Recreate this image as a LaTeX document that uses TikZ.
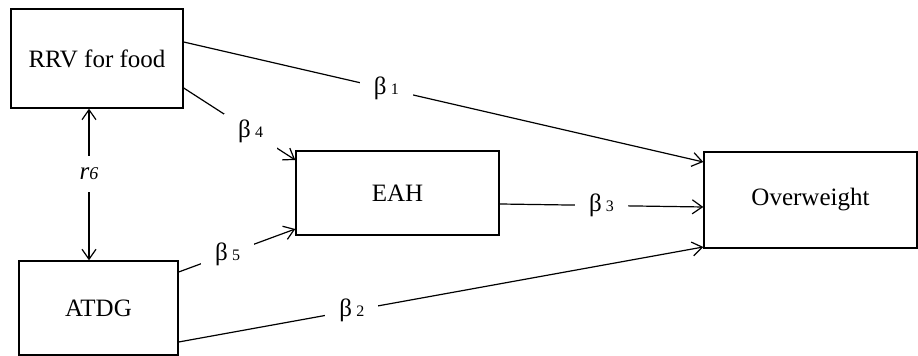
\documentclass[tikz,border=0pt]{standalone}
\usepackage{fontspec}
\setmainfont{Liberation Serif}
\usetikzlibrary{arrows.meta, positioning, calc}

\begin{document}
\begin{tikzpicture}[
    x=1pt, y=1pt,
    >={Straight Barb[length=5pt,width=7pt]},
    box/.style={rectangle, draw=black, line width=0.7pt, fill=white, text centered, font=\fontsize{12.5}{14}\selectfont},
    link/.style={->, line width=0.6pt, black},
    coef/.style={fill=white, inner xsep=7pt, inner ysep=3pt, font=\fontsize{12.5}{14}\selectfont}
]
    \useasboundingbox (0,0) rectangle (459,-178);

    % Boxes
    \node (rrv) [box, minimum width=86pt, minimum height=49.5pt] at (48.5,-29.25) {RRV for food};
    \node (atdg) [box, minimum width=79.5pt, minimum height=47pt] at (49.25,-154) {ATDG};
    \node (eah) [box, minimum width=101.5pt, minimum height=42pt] at (198.75,-96.5) {EAH};
    \node (over) [box, minimum width=106.5pt, minimum height=48pt] at (405.25,-100) {Overweight};

    % Paths
    \draw [link] ([yshift=8.25pt]rrv.east) -- ([yshift=19pt]over.west)
        node[coef, pos=0.39] {β\,{\footnotesize 1}};
    \draw [link] ([yshift=-14.75pt]rrv.east) -- ([yshift=16.5pt]eah.west)
        node[coef, pos=0.6] {β\,{\footnotesize 4}};
    \draw [link] ([yshift=18pt]atdg.east) -- ([yshift=-18pt]eah.west)
        node[coef, pos=0.42] {β\,{\footnotesize 5}};
    \draw [link] ([yshift=-5.5pt]eah.east) -- ([yshift=-3.5pt]over.west)
        node[coef, midway] {β\,{\footnotesize 3}};
    \draw [link] ([yshift=-17pt]atdg.east) -- ([yshift=-23.5pt]over.west)
        node[coef, pos=0.33] {β\,{\footnotesize 2}};

    % Correlation
    \draw [link, <->] ([xshift=-4pt]rrv.south) -- ([xshift=-4.75pt]atdg.north)
        node[coef, inner xsep=2pt, inner ysep=6pt, pos=0.43] {\textit{r}{\small\textit{6}}};
\end{tikzpicture}
\end{document}
